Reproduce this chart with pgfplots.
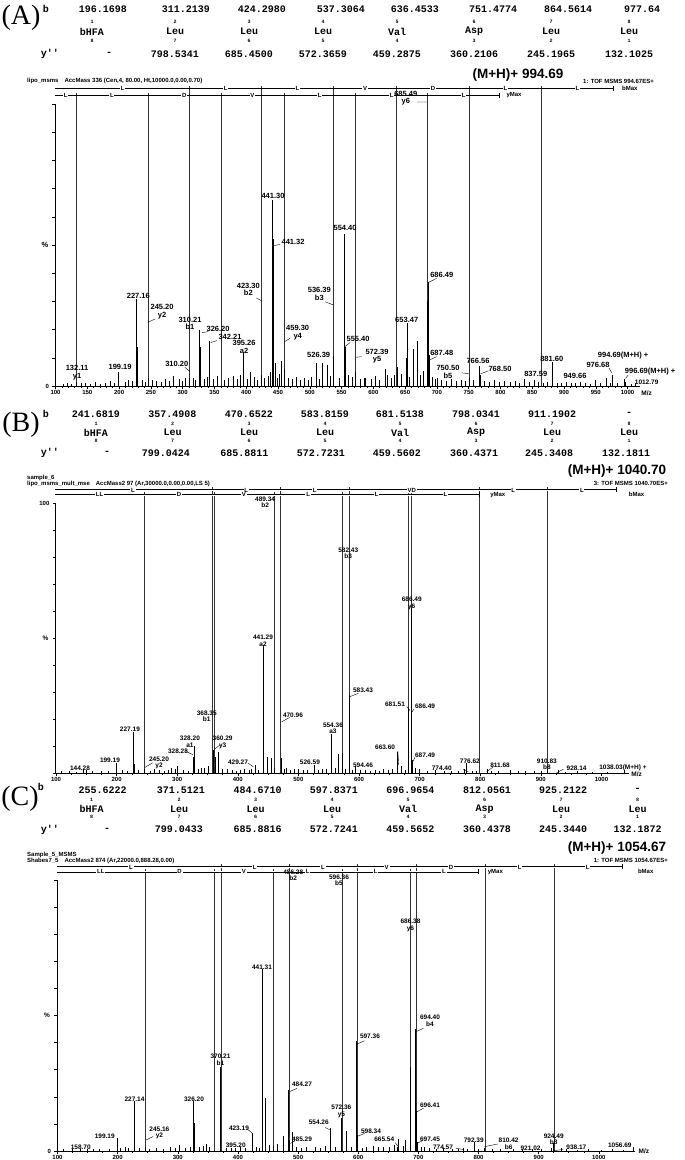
\documentclass[border=0pt]{standalone}
\usepackage{pgfplots}
\pgfplotsset{compat=1.18}
\usepackage{fontspec}
\setmainfont{Liberation Sans}
\newfontfamily\monof{Liberation Mono}
\newfontfamily\seriff{Liberation Serif}

\pgfplotsset{
 msaxis/.style={
  scale only axis, clip=false,
  axis x line*=bottom, axis y line*=left,
  axis line style={-, line width=0.8pt},
  ymin=0, ymax=100,
  tick align=outside,
  major tick length=2.5pt, minor tick length=1.5pt,
  tick style={black, line width=0.5pt},
  x tick label style={font=\bfseries\fontsize{6}{6}\selectfont, yshift=1.5pt},
  y tick label style={font=\bfseries\fontsize{6}{6}\selectfont},
  ytick={0,10,...,100},
  /pgf/number format/assume math mode=true,
  /pgf/number format/1000 sep={},
 },
 peak/.style={ycomb, black, line width=0.6pt, mark=none},
 noise/.style={ycomb, black, line width=0.4pt, mark=none},
 frag/.style={ycomb, black!80, line width=0.6pt, mark=none},
 ladder/.style={black, line width=0.5pt, mark=none},
 ladderD/.style={black, line width=0.4pt, double=white, double distance=0.8pt, mark=none},
 leader/.style={black, line width=0.4pt, mark=none, unbounded coords=jump},
}
\tikzset{
 labA/.style={font=\bfseries\fontsize{7.5}{7.5}\selectfont, inner sep=0pt, align=center},
 labB/.style={font=\bfseries\fontsize{6.5}{6.5}\selectfont, inner sep=0pt, align=center},
 lad/.style={font=\bfseries\fontsize{6}{6}\selectfont, fill=white, inner sep=0.8pt},
 tabf/.style={font=\monof\bfseries\fontsize{10}{10}\selectfont, inner sep=0pt},
 idxf/.style={font=\monof\bfseries\fontsize{5}{5}\selectfont, inner sep=0pt},
 panf/.style={font=\seriff\fontsize{28}{28}\selectfont, inner sep=0pt},
 hdr/.style={font=\bfseries\fontsize{6}{6}\selectfont, inner sep=0pt, anchor=west},
 mh/.style={font=\bfseries\fontsize{13.5}{13.5}\selectfont, inner sep=0pt},
}

\begin{document}
\begin{tikzpicture}
\useasboundingbox (0pt,0pt) rectangle (685pt,-1160pt);

% ================= PANEL A: table =================
\node[panf] at (21pt,-18pt) {(A)};
\node[tabf] at (46pt,-9pt) {b};
\foreach \x/\t in {103/196.1698,186/311.2139,262/424.2980,341/537.3064,415/636.4533,493/751.4774,568/864.5614,642/977.64}
  \node[tabf] at (\x pt,-9pt) {\t};
\foreach \x/\t in {92/1,175/2,249/3,323/4,397/5,474/6,551/7,629/8}
  \node[idxf] at (\x pt,-22pt) {\t};
\foreach \x/\t in {92/bHFA,175/Leu,249/Leu,323/Leu,397/Val,474/Asp,551/Leu,629/Leu}
  \node[tabf] at (\x pt,-31.5pt) {\t};
\foreach \x/\t in {92/8,175/7,249/6,323/5,397/4,474/3,551/2,629/1}
  \node[idxf] at (\x pt,-40.5pt) {\t};
\node[tabf] at (50pt,-54pt) {y''};
\foreach \x/\t in {109/-,175/798.5341,249/685.4500,323/572.3659,397/459.2875,474/360.2106,551/245.1965,629/132.1025}
  \node[tabf] at (\x pt,-54pt) {\t};

\node[hdr] at (27pt,-81pt) {lipo\_msms\quad AccMass 336 (Cen,4, 80.00, Ht,10000.0,0.00,0.70)};
\node[mh] at (518pt,-75pt) {(M+H)+ 994.69};
\node[hdr] at (583pt,-81pt) {1: TOF MSMS 994.67ES+};

% ================= PANEL A: spectrum =================
\begin{axis}[msaxis, at={(54.9pt,-386pt)}, anchor=south west,
  width=585.4pt, height=282pt, xmin=99, xmax=1020,
  xtick={100,150,...,1000}, minor x tick num=4,
  yticklabels={0,,,,,,,,,,}]
\addplot[frag] coordinates {(311.21,106.3)(424.30,106.3)(537.39,106.3)(636.45,106.3)(751.48,106.3)(864.56,106.3)};
\addplot[frag] coordinates {(132.10,104)(245.20,104)(360.21,104)(459.29,104)(572.37,104)(685.45,104)};
\addplot[noise] coordinates {(112,0.8)(118,1.2)(125,0.6)(140,0.9)(147,1.1)(155,0.7)(163,1.3)(171,0.8)(178,1.0)(186,1.6)(193,1.2)(209,1.4)(214,2.1)(221,1.8)(236,2.0)(241,1.5)(252,2.2)(259,1.7)(266,1.3)(272,2.4)(279,1.8)(294,2.6)(299,1.9)(304,2.8)(316,3.0)(320,2.2)(334,2.5)(338,3.2)(348,2.6)(354,3.4)(366,2.1)(372,2.8)(379,3.5)(386,2.4)(390,3.8)(401,2.6)(412,3.1)(417,2.2)(428,2.7)(434,3.6)(448,2.9)(452,4.2)(466,3.0)(472,2.4)(478,3.3)(485,2.0)(491,2.7)(497,2.2)(503,3.1)(515,2.6)(532,3.4)(546,2.8)(566,3.3)(579,2.4)(585,2.9)(597,2.5)(603,3.6)(610,2.2)(628,2.7)(633,3.9)(644,4.4)(657,3.2)(674,3.8)(679,5.2)(692,3.1)(698,2.4)(707,2.1)(714,1.8)(722,2.5)(730,1.7)(738,2.3)(745,1.6)(757,2.0)(775,1.8)(783,1.5)(790,2.1)(798,1.4)(806,1.9)(815,1.3)(823,1.6)(830,1.2)(845,1.5)(859,1.3)(867,1.1)(874,1.4)(889,1.2)(896,1.0)(904,1.3)(911,0.9)(918,1.1)(926,1.4)(933,1.0)(941,0.8)(957,1.2)(972,1.0)(983,0.9)(1005,0.7)};
\addplot[peak] coordinates {(132.11,1.5)(199.19,5)(227.16,31)(229.2,14)(245.20,3)(285.2,3.6)(310.20,3)(326.20,19.7)(327.2,14)(342.21,16)(395.28,12)(406.3,5)(423.30,4)(437.3,5)(441.30,66)(442.32,52)(445.3,8)(455.8,9)(459.30,6)(510.3,8.3)(519.5,8)(527.6,7.5)(536.6,10.7)(554.40,54)(555.40,14)(560.4,4)(572.39,5)(587.4,3)(618.4,6)(621.4,4)(637.4,6.7)(651.4,10)(653.47,22.5)(662.5,13)(668.5,16)(685.5,30)(686.49,37)(687.48,11)(700.5,3)(750.50,3)(766.56,7)(768.50,4)(837.59,2.5)(852.6,2)(881.60,8.5)(949.66,2)(966.7,3)(976.68,4)(994.69,2.5)(996.69,1.5)(1012.79,1)};
\addplot[leader] coordinates {(245.2,22.6)(257,23.8) (nan,nan) (416,31.2)(424.3,30.2) (nan,nan) (524,29.9)(537.4,28.7) (nan,nan) (469,16.9)(460,15.7) (nan,nan) (453,50.2)(443.7,49.8) (nan,nan) (340.4,19.3)(330.5,18.9) (nan,nan) (353.6,16.1)(344.2,15.4) (nan,nan) (303.7,6.6)(311.6,5.1) (nan,nan) (563.4,15.4)(555.5,14) (nan,nan) (581.7,10.4)(572.4,10.2) (nan,nan) (699.7,38.2)(686.5,36.7) (nan,nan) (699.7,10.4)(688,9.2) (nan,nan) (739,4.7)(750.5,4.3) (nan,nan) (781,5.4)(768.5,4.3) (nan,nan) (971,6.3)(975,4.7) (nan,nan) (1001,3.9)(996.7,2.7) (nan,nan) (669,100.7)(684.5,100.7)};
\addplot[ladder] coordinates {(99,105.5)(977.64,105.5)};
\addplot[ladder] coordinates {(99,103.2)(798.53,103.2)};
\addplot[ladder] coordinates {(977.64,104.6)(977.64,106.3)};
\addplot[ladder] coordinates {(798.53,102.3)(798.53,104)};
\foreach \m/\t in {205.6/L,367.8/L,480.8/L,586.9/V,694/D,808/L,921/L}
  {\edef\tmp{\noexpand\node[lad] at (axis cs:\m,105.5) {\t};}\tmp}
\foreach \m/\t in {116/L,188.6/L,302.7/D,409.7/V,515.8/L,628.9/L,742/L}
  {\edef\tmp{\noexpand\node[lad] at (axis cs:\m,103.2) {\t};}\tmp}
\node[lad, anchor=west] at (axis cs:990,105.5) {bMax};
\node[lad, anchor=west] at (axis cs:808,103.2) {yMax};
\node[labA] at (rel axis cs:0,0.5) [xshift=-10pt] {\%};
\node[labA] at (axis cs:133.8,4.8) {132.11\\y1};
\node[labA] at (axis cs:201.5,6.8) {199.19};
\node[labA] at (axis cs:230.3,32.1) {227.16};
\node[labA] at (axis cs:267.6,26.3) {245.20\\y2};
\node[labA] at (axis cs:311.6,22.2) {310.21\\b1};
\node[labA] at (axis cs:290.7,7.8) {310.20};
\node[labA] at (axis cs:355.7,20.3) {326.20};
\node[labA] at (axis cs:374.5,17.4) {342.21};
\node[labA] at (axis cs:396.6,13.9) {395.26\\a2};
\node[labA] at (axis cs:403.3,34.2) {423.30\\b2};
\node[labA] at (axis cs:442.2,67.3) {441.30};
\node[labA] at (axis cs:473.7,51.2) {441.32};
\node[labA] at (axis cs:481,19) {459.30\\y4};
\node[labA] at (axis cs:514,11.1) {526.39};
\node[labA] at (axis cs:515,32.7) {536.39\\b3};
\node[labA] at (axis cs:555.5,55.9) {554.40};
\node[labA] at (axis cs:576,16.7) {555.40};
\node[labA] at (axis cs:605.8,10.5) {572.39\\y5};
\node[labA] at (axis cs:652.5,23.6) {653.47};
\node[labA] at (axis cs:707.6,39.5) {686.49};
\node[labA] at (axis cs:707.6,11.7) {687.48};
\node[labA] at (axis cs:717.5,5) {750.50\\b5};
\node[labA] at (axis cs:764.7,9) {766.56};
\node[labA] at (axis cs:799.3,6) {768.50};
\node[labA] at (axis cs:855.5,4.3) {837.59};
\node[labA] at (axis cs:880.7,9.6) {881.60};
\node[labA] at (axis cs:917.3,3.6) {949.66};
\node[labA] at (axis cs:953.5,7.5) {976.68};
\node[labA] at (axis cs:993,10.7) {994.69(M+H) +};
\node[labA] at (axis cs:1035.5,5) {996.69(M+H) +};
\node[labA] at (axis cs:651,102) {685.49\\y6};
\node[labB] at (axis cs:1030,1.5) {1012.79};
\node[labB] at (axis cs:1030,-2.5) {M/z};
\end{axis}

% ================= PANEL B: table =================
\node[panf] at (21pt,-425pt) {(B)};
\node[tabf] at (46pt,-414pt) {b};
\foreach \x/\t in {96/241.6819,172.5/357.4908,249/470.6522,325/583.8159,400/681.5138,476/798.0341,552/911.1902,629/-}
  \node[tabf] at (\x pt,-414pt) {\t};
\foreach \x/\t in {96/1,172.5/2,249/3,325/4,400/5,476/6,552/7,629/8}
  \node[idxf] at (\x pt,-424pt) {\t};
\foreach \x/\t in {96/bHFA,172.5/Leu,249/Leu,325/Leu,400/Val,476/Asp,552/Leu,629/Leu}
  \node[tabf] at (\x pt,-432.5pt) {\t};
\foreach \x/\t in {96/8,172.5/7,249/6,325/5,400/4,476/3,552/2,629/1}
  \node[idxf] at (\x pt,-440.5pt) {\t};
\node[tabf] at (50pt,-453pt) {y''};
\foreach \x/\t in {107/-,166/799.0424,244.5/685.8811,321/572.7231,397/459.5602,474/360.4371,549/245.3408,626/132.1811}
  \node[tabf] at (\x pt,-453pt) {\t};
\node[hdr] at (27pt,-478pt) {sample\_6};
\node[hdr] at (27pt,-483.5pt) {lipo\_msms\_mult\_mse\quad AccMass2 97 (Ar,30000.0,0.00,0.00,LS 5)};
\node[mh] at (617pt,-471pt) {(M+H)+ 1040.70};
\node[hdr, anchor=east] at (668pt,-483.5pt) {3: TOF MSMS 1040.70ES+};

% ================= PANEL B: spectrum =================
\begin{axis}[msaxis, at={(55.4pt,-773pt)}, anchor=south west,
  width=573.3pt, height=270pt, xmin=99, xmax=1045,
  xtick={100,200,...,1000}, minor x tick num=3,
  yticklabels={,,,,,,,,,,100}]
\addplot[frag] coordinates {(357.49,105.8)(470.65,105.8)(583.82,105.8)(681.51,105.8)(798.03,105.8)(911.19,105.8)};
\addplot[frag] coordinates {(245.34,103.9)(360.44,103.9)(459.56,103.9)(572.72,103.9)(685.88,103.9)};
\addplot[noise] coordinates {(108,0.6)(122,0.8)(133,0.5)(160,0.7)(175,0.9)(186,0.6)(210,1.0)(218,0.8)(236,1.2)(255,0.9)(270,1.3)(278,0.8)(285,1.1)(296,1.5)(310,1.2)(318,0.9)(335,1.6)(345,1.8)(374,1.4)(390,1.1)(398,0.9)(404,1.2)(418,1.0)(422,1.5)(434,1.3)(460,1.8)(476,1.6)(486,1.2)(493,1.4)(508,1.0)(515,1.3)(532,1.1)(546,1.4)(560,2.0)(578,1.6)(589,1.2)(602,1.0)(618,0.9)(626,1.1)(633,0.8)(648,1.2)(655,1.5)(676,1.3)(693,1.8)(712,0.9)(726,1.0)(740,0.7)(752,0.9)(763,0.8)(786,0.9)(793,0.7)(818,0.8)(830,0.6)(862,0.7)(875,0.6)(889,0.8)(901,0.6)(940,0.5)(960,0.6)(985,0.5)(1010,0.5)};
\addplot[peak] coordinates {(144.28,1.5)(150,1)(199.19,3.7)(227.19,15.1)(229.2,3.5)(245.20,1.5)(262,1.5)(290,2)(300,2.5)(326.2,6)(328.20,10)(328.28,8)(340,2)(352,2.5)(360.29,8.7)(362.3,6)(368.35,7.6)(382,1.5)(410,1.5)(429.27,3)(441.29,47.4)(442.3,13.3)(449,6)(456,5.5)(470.96,5.5)(480,2)(500,1.5)(526.59,3)(540,1.5)(554.36,14.4)(566,7)(572.7,7.5)(583.43,29)(594.46,2.5)(610,1)(640,1.5)(663.60,7.7)(670,2.5)(681.51,24)(686.49,61)(687.49,5)(700,1.5)(774.40,1.5)(776.62,3.7)(811.68,1.5)(850,1)(910.83,1.5)(928.14,1)(1038.03,1)};
\addplot[leader] coordinates {(259.6,3.8)(246.9,2.1) (nan,nan) (315.7,7.9)(326.6,6.7) (nan,nan) (370.6,10.4)(361.2,8.8) (nan,nan) (417.3,3.6)(425.6,2.3) (nan,nan) (486,20.6)(472.4,19) (nan,nan) (598.9,29.5)(585.1,28.3) (nan,nan) (678.7,24.6)(684.2,23.1) (nan,nan) (690.8,23.7)(687,22.5) (nan,nan) (664,8.1)(665.5,3) (nan,nan) (692.4,5.8)(688.6,4.2) (nan,nan) (772,1.4)(780,0.5) (nan,nan) (821.6,2.3)(810.7,0.5) (nan,nan) (937,1.4)(926,0.1)};
\addplot[ladderD] coordinates {(99,104.8)(1024.27,104.8)};
\addplot[ladderD] coordinates {(99,103.0)(799.04,103.0)};
\addplot[ladder] coordinates {(1024.27,104)(1024.27,105.8)};
\addplot[ladder] coordinates {(799.04,102.1)(799.04,103.9)};
\foreach \m/\t in {227/L,414/L,527/L,687/VD,854.6/L,967.7/L}
  {\edef\tmp{\noexpand\node[lad] at (axis cs:\m,104.8) {\t};}\tmp}
\foreach \m/\t in {172/LL,302.9/D,410/V,516/L,629/L,742.5/L}
  {\edef\tmp{\noexpand\node[lad] at (axis cs:\m,103.0) {\t};}\tmp}
\node[lad] at (axis cs:1058,103.2) {bMax};
\node[lad] at (axis cs:829,102.8) {yMax};
\node[labB] at (rel axis cs:0,0.5) [xshift=-10pt] {\%};
\node[labB] at (axis cs:139.6,1.8) {144.28};
\node[labB] at (axis cs:189,4.6) {199.19};
\node[labB] at (axis cs:222,16.3) {227.19};
\node[labB] at (axis cs:270,3.7) {245.20\\y2};
\node[labB] at (axis cs:301.3,8.1) {328.28};
\node[labB] at (axis cs:321,11.6) {328.20\\a1};
\node[labB] at (axis cs:375,11.3) {360.29\\y3};
\node[labB] at (axis cs:348.7,21.1) {368.35\\b1};
\node[labB] at (axis cs:400.3,3.9) {429.27};
\node[labB] at (axis cs:441.6,49) {441.29\\a2};
\node[labB] at (axis cs:445,100.2) {489.34\\b2};
\node[labB] at (axis cs:491,21.3) {470.96};
\node[labB] at (axis cs:519,3.9) {526.59};
\node[labB] at (axis cs:557,16.5) {554.36\\a3};
\node[labB] at (axis cs:582.3,81.4) {582.43\\b3};
\node[labB] at (axis cs:606.6,30.8) {583.43};
\node[labB] at (axis cs:606.6,3) {594.46};
\node[labB] at (axis cs:643,9.4) {663.60};
\node[labB] at (axis cs:659.4,25.6) {681.51};
\node[labB] at (axis cs:687,62.9) {686.49\\y6};
\node[labB] at (axis cs:709,24.8) {686.49};
\node[labB] at (axis cs:709,6.5) {687.49};
\node[labB] at (axis cs:736.5,1.8) {774.40};
\node[labB] at (axis cs:783,4.3) {776.62};
\node[labB] at (axis cs:832.7,3) {811.68};
\node[labB] at (axis cs:910,3.2) {910.83\\b8};
\node[labB] at (axis cs:959,1.8) {928.14};
\node[labB] at (axis cs:1035.6,1.8) {1038.03(M+H) +};
\node[labB] at (axis cs:1058,-0.5) {M/z};
\end{axis}

% ================= PANEL C: table =================
\node[panf] at (20pt,-799pt) {(C)};
\node[tabf] at (41pt,-787pt) {b};
\foreach \x/\t in {102.6/255.6222,181/371.5121,257.6/484.6710,334/597.8371,410.5/696.9654,487/812.0561,563/925.2122,637.6/-}
  \node[tabf] at (\x pt,-790pt) {\t};
\foreach \x/\t in {91.7/1,179/2,255.5/3,332/4,408/5,484.7/6,561/7,637.6/8}
  \node[idxf] at (\x pt,-800pt) {\t};
\foreach \x/\t in {91.7/bHFA,179/Leu,255.5/Leu,332/Leu,408/Val,484.7/Asp,561/Leu,637.6/Leu}
  \node[tabf] at (\x pt,-809pt) {\t};
\foreach \x/\t in {91.7/8,179/7,255.5/6,332/5,408/4,484.7/3,561/2,637.6/1}
  \node[idxf] at (\x pt,-817pt) {\t};
\node[tabf] at (50pt,-829.5pt) {y''};
\foreach \x/\t in {107/-,179/799.0433,257.6/685.8816,334/572.7241,410.5/459.5652,487/360.4378,563/245.3440,637.6/132.1872}
  \node[tabf] at (\x pt,-829.5pt) {\t};
\node[hdr] at (27pt,-855pt) {Sample\_5\_MSMS};
\node[hdr] at (27pt,-860.5pt) {Shabes7\_5\quad AccMass2 874 (Ar,22000.0,888.28,0.00)};
\node[mh] at (617pt,-848pt) {(M+H)+ 1054.67};
\node[hdr, anchor=east] at (668pt,-860.5pt) {1: TOF MSMS 1054.67ES+};

% ================= PANEL C: spectrum =================
\begin{axis}[msaxis, at={(56.9pt,-1151pt)}, anchor=south west,
  width=578pt, height=271pt, xmin=99, xmax=1060,
  xtick={100,200,...,1000}, minor x tick num=3,
  yticklabels={0,,,,,,,,,,}]
\addplot[frag] coordinates {(371.51,105.8)(484.67,105.8)(597.84,105.8)(696.97,105.8)(812.06,105.8)(925.21,105.8)};
\addplot[frag] coordinates {(245.34,103.9)(360.44,103.9)(459.57,103.9)(572.72,103.9)(685.88,103.9)};
\addplot[noise] coordinates {(110,0.6)(124,0.8)(138,0.6)(150,0.7)(170,0.9)(186,0.7)(205,1.0)(218,1.2)(236,1.0)(252,0.9)(264,1.2)(276,0.8)(288,1.3)(295,1.0)(312,1.1)(320,1.5)(336,1.4)(342,2.0)(352,1.6)(380,1.2)(388,1.0)(404,1.3)(412,1.1)(430,1.5)(436,1.2)(452,2.2)(458,1.8)(466,2.6)(497,1.5)(505,1.2)(514,1.6)(536,1.2)(545,1.8)(562,1.5)(588,1.4)(606,1.2)(614,1.6)(633,1.3)(642,1.6)(652,1.5)(659,2.2)(674,2.0)(704,1.4)(718,1.1)(730,0.9)(742,1.0)(756,0.8)(766,0.9)(782,0.8)(800,0.7)(822,0.8)(836,0.6)(858,0.7)(872,0.6)(890,0.8)(905,0.6)(946,0.6)(964,0.5)(982,0.6)(1004,0.5)(1022,0.6)(1040,0.5)};
\addplot[peak] coordinates {(158.70,0.8)(199.19,4.8)(212,1.6)(227.14,18.6)(245.16,1.5)(302,2.3)(326.20,18.6)(328.2,10.4)(347,2.6)(370.21,31)(395.20,1)(423.19,6.7)(441.31,67)(445.3,19.5)(476,5.7)(484.27,22.4)(485.29,4)(490,7)(528,1.3)(554.26,8.6)(572.36,12)(580,7.5)(597.36,40.6)(598.34,6)(625,2)(665.54,1.6)(667,4.4)(679,4)(686.38,31)(694.40,45)(696.41,14.8)(697.45,3.5)(710,1.5)(774.57,1)(792.39,3.5)(810.42,1)(921.02,1)(924.49,3)(938.17,1)(1056.69,1.5)};
\addplot[leader] coordinates {(258.5,5.3)(247.6,4.1) (nan,nan) (416,8)(423.2,6.7) (nan,nan) (498,23.1)(485.7,21.9) (nan,nan) (494.5,3.7)(487.2,2.8) (nan,nan) (545,8.7)(554,7.7) (nan,nan) (610.6,40.7)(598.3,39.5) (nan,nan) (610.6,6.5)(599.6,5.5) (nan,nan) (661.4,3.1)(667.3,1.4) (nan,nan) (708.6,45.3)(695.5,44) (nan,nan) (708.6,15.8)(697.7,14.5) (nan,nan) (707,3.8)(697.7,2.8) (nan,nan) (763,1)(774,0.6) (nan,nan) (832,2.6)(810,1.6) (nan,nan) (941,0.6)(925,0.1)};
\addplot[ladderD] coordinates {(99,104.8)(1038.29,104.8)};
\addplot[ladderD] coordinates {(99,103.0)(799.04,103.0)};
\addplot[ladder] coordinates {(1038.29,104)(1038.29,105.8)};
\addplot[ladder] coordinates {(799.04,102.1)(799.04,103.9)};
\foreach \m/\t in {222/L,428/L,541.3/L,647.4/V,754.5/D,868.6/L,981.7/L}
  {\edef\tmp{\noexpand\node[lad] at (axis cs:\m,104.8) {\t};}\tmp}
\foreach \m/\t in {172/LL,302.9/D,410/V,516/L,629/L,742.5/L}
  {\edef\tmp{\noexpand\node[lad] at (axis cs:\m,103.0) {\t};}\tmp}
\node[lad] at (axis cs:1078,103.2) {bMax};
\node[lad] at (axis cs:828,102.8) {yMax};
\node[labB] at (rel axis cs:0,0.5) [xshift=-10pt] {\%};
\node[labB] at (axis cs:138.7,1.4) {158.70};
\node[labB] at (axis cs:178.6,5.3) {199.19};
\node[labB] at (axis cs:228,19.2) {227.14};
\node[labB] at (axis cs:269.4,6.7) {245.16\\y2};
\node[labB] at (axis cs:327,19.2) {326.20};
\node[labB] at (axis cs:371,33.6) {370.21\\b1};
\node[labB] at (axis cs:396.4,2.3) {395.20};
\node[labB] at (axis cs:401.7,8.3) {423.19};
\node[labB] at (axis cs:440,67.7) {441.31};
\node[labB] at (axis cs:506.5,24.5) {484.27};
\node[labB] at (axis cs:506.5,4.4) {485.29};
\node[labB] at (axis cs:534.4,10.7) {554.26};
\node[labB] at (axis cs:572,14.7) {572.36\\y5};
\node[labB] at (axis cs:619.5,42.3) {597.36};
\node[labB] at (axis cs:621.2,7.3) {598.34};
\node[labB] at (axis cs:643.3,4.2) {665.54};
\node[labB] at (axis cs:686.9,83.2) {686.38\\y6};
\node[labB] at (axis cs:719.3,48) {694.40\\b4};
\node[labB] at (axis cs:719.3,17) {696.41};
\node[labB] at (axis cs:719.3,4.5) {697.45};
\node[labB] at (axis cs:741,1.4) {774.57};
\node[labB] at (axis cs:792,3.8) {792.39};
\node[labB] at (axis cs:850,2.6) {810.42\\b6};
\node[labB] at (axis cs:886.5,1.2) {921.02};
\node[labB] at (axis cs:925,4.3) {924.49\\b8};
\node[labB] at (axis cs:962.7,1.2) {938.17};
\node[labB] at (axis cs:1035,2.3) {1056.69};
\node[labB] at (axis cs:492,101.8) {486.28\\b2};
\node[labB] at (axis cs:568,100) {596.36\\b5};
\node[labB] at (axis cs:1075,0) {M/z};
\end{axis}
\end{tikzpicture}
\end{document}
